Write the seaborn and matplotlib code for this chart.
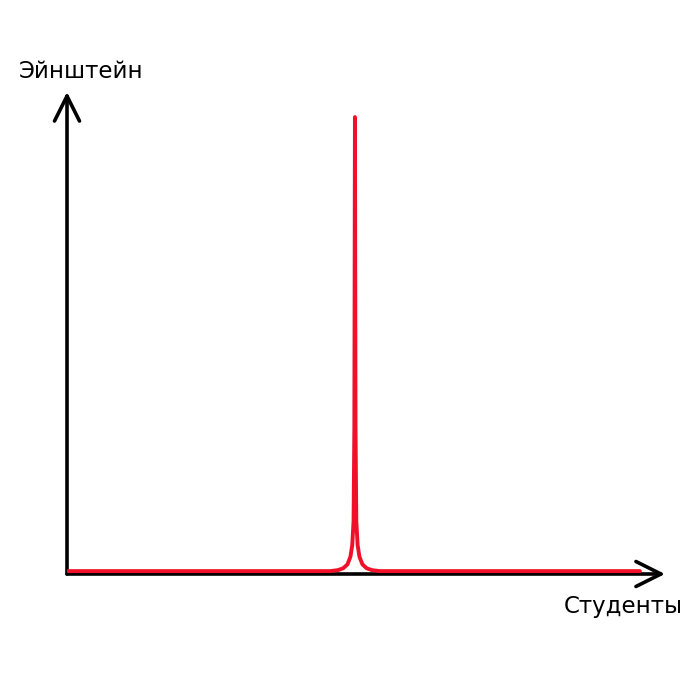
import matplotlib
matplotlib.use("Agg")
import matplotlib.pyplot as plt
import seaborn as sns
import pandas as pd

# Data (axis units 0..100)
students = [0.2, 44.0, 45.3, 46.2, 46.9, 47.4, 47.7, 47.92, 48.05, 48.15, 48.25, 48.38, 48.6, 48.9, 49.4, 50.1, 51.0, 52.3, 95.8]
einstein = [0.6, 0.6, 0.8, 1.2, 2.0, 3.6, 6.0, 11.0, 30.0, 94.8, 30.0, 11.0, 6.0, 3.6, 2.0, 1.2, 0.8, 0.6, 0.6]
x_label = "Студенты"
y_label = "Эйнштейн"

df = pd.DataFrame({"x": students, "y": einstein})

sns.set_style("white")
plt.rcParams["font.family"] = ["DejaVu Sans"]

fig = plt.figure(figsize=(7, 7), dpi=100)
ax = fig.add_axes([67/700, 126/700, 598/700, 482/700])
ax.set_xlim(0, 100)
ax.set_ylim(0, 100)
for s in ax.spines.values():
    s.set_visible(False)
ax.set_xticks([])
ax.set_yticks([])
ax.patch.set_alpha(0)

arrow = dict(arrowstyle="->,head_length=1.0,head_width=0.5", color="black",
             lw=2.6, mutation_scale=18, shrinkA=0, shrinkB=0)
ax.annotate("", xy=(100, 0), xytext=(0, 0), arrowprops=arrow, annotation_clip=False)
ax.annotate("", xy=(0, 100), xytext=(0, 0), arrowprops=arrow, annotation_clip=False)

sns.lineplot(data=df, x="x", y="y", ax=ax, color="#f0102a", lw=2.8,
             sort=False, estimator=None, zorder=5)
ax.set_xlabel("")
ax.set_ylabel("")

fig.text(81/700, 1 - 72/700, y_label, fontsize=16.5, ha="center", va="center", color="black")
fig.text(623/700, 1 - 607/700, x_label, fontsize=16.5, ha="center", va="center", color="black")

fig.savefig("out.png", dpi=100, facecolor="white")
